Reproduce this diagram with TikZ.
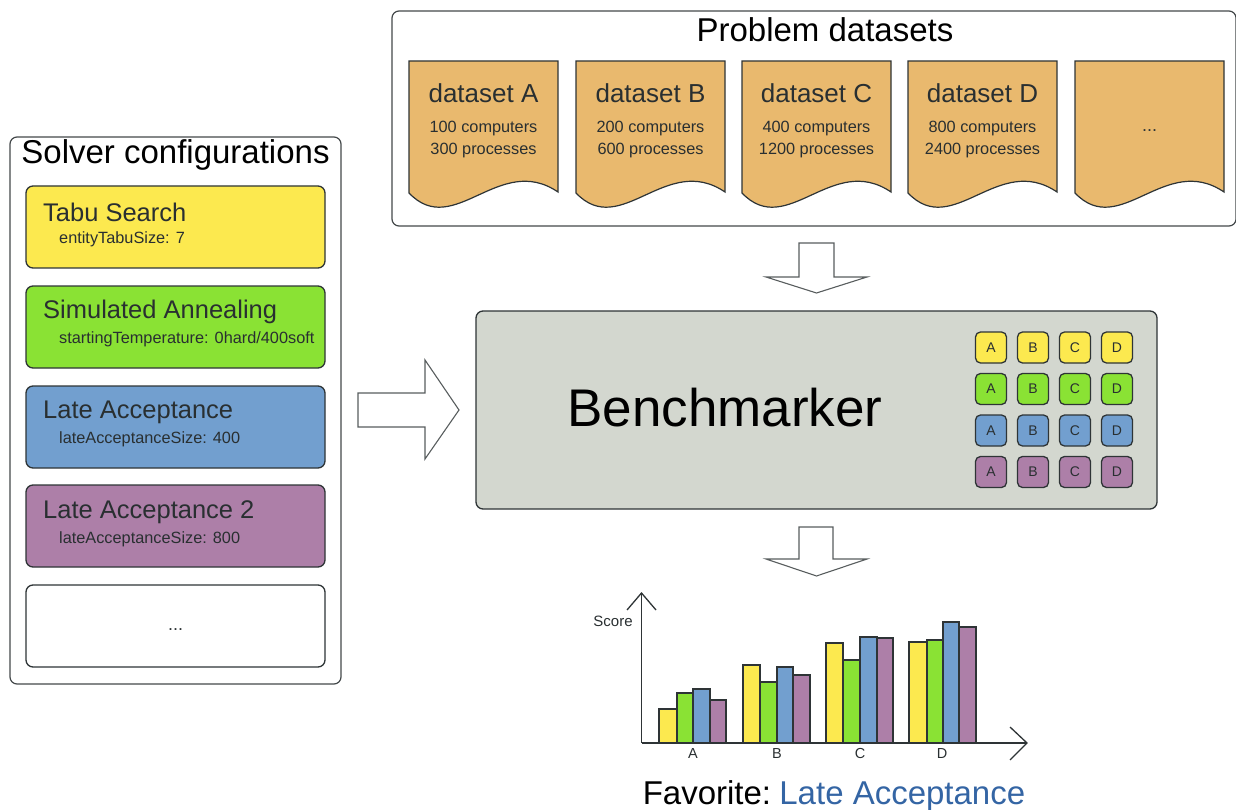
\documentclass[tikz,border=0pt]{standalone}
\usepackage{fontspec}
\setmainfont{Liberation Sans}
\definecolor{cyel}{HTML}{FCE94F}
\definecolor{cgrn}{HTML}{8AE234}
\definecolor{cblu}{HTML}{729FCF}
\definecolor{cpur}{HTML}{AD7FA8}
\definecolor{cdoc}{HTML}{E9B96E}
\definecolor{cgry}{HTML}{D3D7CF}
\definecolor{cline}{HTML}{2E3436}
\definecolor{cfav}{HTML}{3465A4}
\newcommand{\fsz}[1]{\fontsize{#1}{#1}\selectfont}
\tikzset{
  outerbox/.style={draw=cline!90, line width=1.2pt, rounded corners=7pt},
  cfgbox/.style={draw=cline, line width=1.3pt, rounded corners=7pt, minimum width=299pt, minimum height=82pt, inner sep=0pt},
  doc/.style={draw=cline, line width=1.2pt, fill=cdoc},
  bigtitle/.style={font=\fsz{33}, text=black, inner sep=0pt},
  cfgtitle/.style={font=\fsz{25.5}, text=cline!90!black, anchor=west, inner sep=0pt},
  cfgsub/.style={font=\fsz{16.3}, text=cline!90!black, anchor=west, inner sep=0pt},
  dstitle/.style={font=\fsz{26}, text=cline!90!black, inner sep=0pt},
  dssub/.style={font=\fsz{16.3}, text=cline!90!black, align=center, inner sep=0pt},
  blockarrow/.style={draw=cline!80, line width=1.1pt, fill=white},
  cell/.style={draw=cline, line width=1.3pt, rounded corners=5pt, minimum width=31pt, minimum height=31pt, inner sep=0pt, font=\fsz{14}, text=cline!90!black},
  bar/.style={draw=cline, line width=1.2pt},
  axis/.style={draw=cline, line width=1.3pt},
  axlabel/.style={font=\fsz{14.5}, text=cline!90!black, inner sep=0pt},
}
\begin{document}
\begin{tikzpicture}[x=1pt, y=-1pt]
\useasboundingbox (0,0) rectangle (1236,810);
% ---------- Problem datasets ----------
\draw[outerbox] (392,11) rectangle (1236,226);
\node[bigtitle] (pdtitle) at (825,30) {Problem datasets};
\foreach \x/\nm/\ta/\tb/\tc in {409/A/dataset A/100 computers/300 processes,
                               576/B/dataset B/200 computers/600 processes,
                               742/C/dataset C/400 computers/1200 processes,
                               908/D/dataset D/800 computers/2400 processes}{
  \path[doc] (\x,61) -- (\x+149,61) -- (\x+149,192)
     .. controls (\x+90,152) and (\x+45,240) .. (\x,193) -- cycle;
  \node[dstitle] (ds\nm) at (\x+74.5,93) {\ta};
  \node[dssub] (dss\nm) at (\x+74.5,139.5) {\tb\\[5pt]\tc};
}
\path[doc] (1075,61) -- (1224,61) -- (1224,192)
   .. controls (1165,152) and (1120,240) .. (1075,193) -- cycle;
\node[font=\fsz{18}, text=cline] (dsmore) at (1149.5,131) {...};
% ---------- Solver configurations ----------
\draw[outerbox] (10,137) rectangle (341,684);
\node[bigtitle] (sctitle) at (175.5,155) {Solver configurations};
\node[cfgbox, fill=cyel] (tabu) at (175.5,227) {};
\node[cfgtitle] (tabut) at (43,212) {Tabu Search};
\node[cfgsub] (tabus) at (59,239.5) {entityTabuSize: 7};
\node[cfgbox, fill=cgrn] (sa) at (175.5,327) {};
\node[cfgtitle] (sat) at (43,312) {Simulated Annealing};
\node[cfgsub] (sas) at (59,339.5) {startingTemperature: 0hard/400soft};
\node[cfgbox, fill=cblu] (lacc) at (175.5,427) {};
\node[cfgtitle] (lacct) at (43,412) {Late Acceptance};
\node[cfgsub] (laccs) at (59,439.5) {lateAcceptanceSize: 400};
\node[cfgbox, fill=cpur] (lacc2) at (175.5,526) {};
\node[cfgtitle] (lacc2t) at (43,512) {Late Acceptance 2};
\node[cfgsub] (lacc2s) at (59,539.5) {lateAcceptanceSize: 800};
\node[cfgbox, fill=white] (more) at (175.5,626) {};
\node[font=\fsz{18}, text=cline] (moret) at (175.5,630) {...};
% ---------- arrows ----------
\path[blockarrow] (358,393) -- (425,393) -- (425,360) -- (459,410) -- (425,459) -- (425,427) -- (358,427) -- cycle;
\path[blockarrow] (799,243) -- (834,243) -- (834,277) -- (867,277) -- (816.5,293) -- (766,277) -- (799,277) -- cycle;
\path[blockarrow] (799,527) -- (833,527) -- (833,559) -- (867,559) -- (816.5,576) -- (766,559) -- (799,559) -- cycle;
% ---------- Benchmarker ----------
\draw[draw=cline, line width=1.3pt, fill=cgry, rounded corners=7pt] (476,311) rectangle (1157,509);
\node[font=\fsz{53}, text=black, inner sep=0pt] (bench) at (725,408) {Benchmarker};
\foreach \r/\col in {0/cyel,1/cgrn,2/cblu,3/cpur}{
  \foreach \c/\lt in {0/A,1/B,2/C,3/D}{
    \node[cell, fill=\col] (g\r\lt) at (991+42*\c, 347.5+41.5*\r) {\lt};
  }
}
% ---------- chart ----------
\foreach \x/\w/\t/\col in {
  659/18/709/cyel, 677/16/693/cgrn, 693/17/689/cblu, 710/16/700/cpur,
  743/17/665/cyel, 760/17/682/cgrn, 777/16/667/cblu, 793/17/675/cpur,
  826/17/643/cyel, 843/17/660/cgrn, 860/17/637/cblu, 877/16/638/cpur,
  909/18/642/cyel, 927/16/640/cgrn, 943/16/622/cblu, 959/17/627/cpur}{
  \draw[bar, fill=\col] (\x,743) rectangle (\x+\w,\t);
}
\coordinate (yax) at (641.5,743);
\coordinate (ytop) at (641.5,593);
\coordinate (xend) at (1027,743);
\draw[axis] (yax) -- (ytop);
\draw[axis] (627,610) -- (ytop) -- (656,610);
\draw[axis] (yax) -- (xend);
\draw[axis] (1010,727) -- (xend) -- (1010,760);
\node[font=\fsz{15}, text=cline!90!black, inner sep=0pt] (score) at (613,621) {Score};
\node[axlabel] (xla) at (693,754) {A};
\node[axlabel] (xlb) at (777,754) {B};
\node[axlabel] (xlc) at (860,754) {C};
\node[axlabel] (xld) at (942,754) {D};
\node[font=\fsz{33}, text=black, inner sep=0pt] (fav) at (834,796) {Favorite:\hspace{0.25em}\textcolor{cfav}{Late Acceptance}};
\end{tikzpicture}
\end{document}
